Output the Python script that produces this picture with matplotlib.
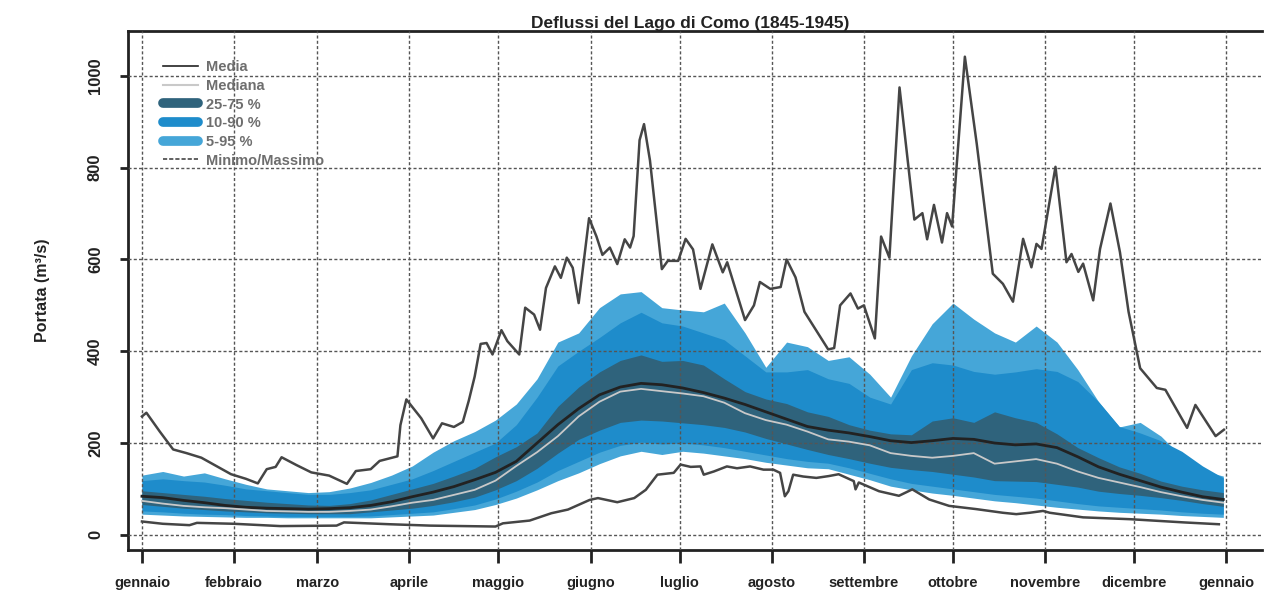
import matplotlib
matplotlib.use("Agg")
import matplotlib.pyplot as plt
from matplotlib.lines import Line2D
import numpy as np

plt.rcParams['font.family'] = ['Liberation Sans', 'DejaVu Sans']

# ---- data: day of year (0 = 1 gennaio) ----
month_days = [0, 31, 59, 90, 120, 151, 181, 212, 243, 273, 304, 334, 365]
month_labels = ['gennaio', 'febbraio', 'marzo', 'aprile', 'maggio', 'giugno',
                'luglio', 'agosto', 'settembre', 'ottobre', 'novembre',
                'dicembre', 'gennaio']
y_ticks = [0, 200, 400, 600, 800, 1000]

days = [0, 7, 14, 21, 28, 35, 42, 49, 56, 63, 70, 77, 84, 91, 98, 105, 112,
        119, 126, 133, 140, 147, 154, 161, 168, 175, 182, 189, 196, 203, 210,
        217, 224, 231, 238, 245, 252, 259, 266, 273, 280, 287, 294, 301, 308,
        315, 322, 329, 336, 343, 350, 357, 364]

media = [84, 81, 75, 70, 64, 60, 58, 57, 56, 57, 59, 64, 72, 83, 93, 105, 120,
         136, 160, 200, 240, 275, 305, 322, 330, 327, 320, 310, 298, 284, 268,
         252, 236, 228, 222, 214, 205, 201, 205, 210, 208, 200, 196, 198, 190,
         170, 148, 132, 118, 104, 93, 83, 77]

mediana = [74, 68, 63, 60, 58, 55, 52, 51, 50, 50, 52, 55, 62, 70, 76, 87, 98,
           118, 150, 180, 215, 258, 290, 312, 318, 313, 308, 302, 288, 265, 250,
           240, 225, 208, 203, 195, 178, 172, 168, 172, 178, 155, 160, 165, 155,
           138, 124, 114, 104, 93, 84, 76, 70]

q05 = [45, 43, 41, 40, 39, 38, 38, 37, 37, 37, 37, 37, 39, 41, 43, 49, 55, 66,
       80, 98, 118, 135, 155, 172, 182, 175, 182, 178, 172, 166, 158, 152, 146,
       144, 132, 120, 106, 98, 91, 86, 80, 74, 70, 65, 60, 56, 52, 49, 47, 45,
       42, 40, 38]

q10 = [52, 50, 47, 45, 44, 42, 41, 40, 40, 40, 40, 41, 44, 47, 50, 57, 65, 78,
       95, 115, 140, 160, 180, 195, 202, 198, 200, 196, 190, 182, 174, 166, 160,
       156, 146, 134, 122, 112, 106, 100, 94, 88, 84, 80, 74, 68, 63, 60, 57,
       54, 50, 47, 45]

q25 = [66, 62, 58, 55, 52, 50, 48, 47, 46, 46, 46, 50, 54, 58, 64, 72, 82, 98,
       118, 145, 178, 208, 228, 245, 250, 248, 244, 240, 234, 224, 210, 198,
       186, 175, 166, 156, 147, 142, 138, 132, 126, 118, 117, 116, 110, 104, 95,
       90, 86, 81, 75, 68, 62]

q75 = [96, 92, 88, 84, 79, 75, 71, 68, 65, 64, 68, 76, 88, 100, 112, 128, 145,
       170, 192, 222, 280, 322, 355, 380, 392, 378, 380, 370, 340, 312, 296, 286,
       268, 258, 240, 228, 220, 218, 248, 255, 245, 268, 255, 245, 220, 190, 168,
       148, 134, 117, 106, 98, 92]

q90 = [118, 122, 118, 115, 108, 100, 96, 92, 88, 88, 92, 98, 110, 122, 140, 160,
       180, 200, 240, 300, 368, 400, 430, 462, 485, 462, 455, 440, 425, 390, 355,
       355, 360, 340, 330, 300, 285, 360, 375, 370, 356, 350, 355, 362, 356, 334,
       290, 236, 222, 205, 182, 150, 124]

q95 = [130, 138, 128, 135, 122, 110, 100, 96, 92, 94, 102, 114, 130, 150, 180,
       205, 225, 250, 285, 340, 420, 440, 495, 525, 530, 495, 490, 486, 505, 440,
       365, 420, 410, 380, 388, 350, 300, 390, 460, 505, 470, 440, 420, 455, 420,
       360, 290, 235, 245, 215, 170, 140, 128]

max_days = [0, 1.5, 6, 10.5, 15, 20, 25, 30, 35, 39, 42, 45, 47, 52, 57, 63, 69,
            72, 77, 80, 86, 87, 89, 94, 98, 101, 105, 108, 110, 112, 114, 116,
            118, 121, 123, 127, 129, 132, 134, 136, 139, 141, 143, 145, 147,
            150.5, 153, 155, 157.5, 160, 162.5, 164.3, 165.5, 167.5, 169, 171,
            175, 177, 180.5, 183, 185.5, 188, 192, 195.5, 197, 203, 206, 208,
            211.5, 215, 217, 220, 223, 231, 233, 235, 238.5, 241, 243, 246.7,
            248.8, 251.6, 255, 260, 262.7, 264.3, 266.6, 269.3, 271, 272.7, 277,
            281, 286.4, 289.8, 293.2, 296.6, 299.4, 301.1, 302.8, 307.5, 311.2,
            312.9, 315.2, 316.8, 320.2, 322.5, 326, 329.2, 332.1, 336, 341.6,
            344.5, 351.8, 354.6, 361.4, 364.2]
max_vals = [258, 266, 225, 186, 178, 168, 150, 132, 122, 112, 143, 148, 169,
            152, 136, 129, 111, 139, 143, 161, 171, 239, 295, 254, 210, 243, 235,
            246, 292, 345, 416, 418, 393, 446, 422, 393, 495, 480, 447, 538, 585,
            560, 604, 582, 505, 690, 650, 610, 626, 590, 644, 626, 651, 860, 895,
            816, 579, 597, 597, 645, 622, 536, 633, 572, 594, 468, 500, 551, 536,
            540, 600, 561, 486, 404, 407, 500, 526, 493, 500, 428, 650, 604, 975,
            687, 701, 644, 719, 637, 701, 672, 1042, 852, 569, 547, 508, 645, 583,
            634, 623, 802, 594, 612, 573, 591, 511, 623, 722, 616, 486, 363, 320,
            316, 233, 283, 215, 229]

min_days = [0, 7, 16, 18.5, 31, 46.5, 65.5, 68, 83.4, 97, 119, 121.5, 130.5,
            137.8, 143.4, 150.7, 153.5, 160, 165.7, 169.6, 173.5, 179, 181.3,
            184.7, 188, 189.1, 192.5, 196.9, 200.3, 204.7, 209.2, 212.5, 214.8,
            216.4, 217.6, 219.2, 222.6, 227, 231.2, 234.5, 239.6, 240.2, 241.3,
            248.1, 254.8, 259.3, 265, 271.7, 280.8, 289.8, 294.3, 298.8, 303.3,
            305.6, 316.8, 332.6, 350.7, 362.5]
min_vals = [29, 24, 21, 26, 24, 19, 20, 27, 23, 20, 18, 25, 31, 47, 55, 76, 80,
            71, 80, 98, 131, 135, 153, 148, 149, 131, 138, 149, 145, 149, 142,
            142, 135, 84, 95, 131, 127, 124, 128, 132, 117, 99, 114, 95, 85, 99,
            77, 63, 56, 48, 45, 48, 52, 48, 38, 34, 27, 23]

# ---- colours ----
c_595 = '#45a6d8'
c_1090 = '#1e8ccb'
c_2575 = '#2f637c'
c_media = '#222222'
c_mediana = '#c9c9c9'
c_minmax = '#454545'

fig = plt.figure(figsize=(12.66, 6.03), dpi=100)
ax = fig.add_axes([0.1011, 0.0880, 0.8957, 0.8606])

ax.fill_between(days, q05, q95, color=c_595, lw=0, zorder=1)
ax.fill_between(days, q10, q90, color=c_1090, lw=0, zorder=1.1)
ax.fill_between(days, q25, q75, color=c_2575, lw=0, zorder=1.2)

ax.plot(max_days, max_vals, color=c_minmax, lw=1.8, zorder=3)
ax.plot(min_days, min_vals, color=c_minmax, lw=1.8, zorder=3)
ax.plot(days, media, color=c_media, lw=2.0, zorder=3.2)
ax.plot(days, mediana, color=c_mediana, lw=1.3, zorder=3.3)

ax.set_xlim(-4.7, 377)
ax.set_ylim(-33, 1098)

ax.set_xticks(month_days)
ax.set_xticklabels(month_labels, fontsize=10.5, fontweight='bold', color='#222222')
ax.set_yticks(y_ticks)
ax.set_yticklabels([str(v) for v in y_ticks], rotation=90, va='center',
                   fontsize=12, fontweight='bold', color='#222222')

ax.tick_params(axis='x', length=9, width=2, pad=10, color='#222222')
ax.tick_params(axis='y', length=6, width=2, pad=12, color='#222222')

ax.grid(True, linestyle=(0, (2.2, 1.6)), color='#555555', lw=1.0)
ax.set_axisbelow(False)
for gl in ax.get_xgridlines() + ax.get_ygridlines():
    gl.set_zorder(2.5)

for side in ['left', 'bottom', 'top']:
    ax.spines[side].set_linewidth(2.0)
    ax.spines[side].set_color('#222222')
ax.spines['right'].set_visible(False)

ax.set_ylabel('Portata (m³/s)', fontsize=11.5, fontweight='bold', color='#222222')
ax.yaxis.set_label_coords(-0.069, 0.5)

ax.set_title('Deflussi del Lago di Como (1845-1945)', fontsize=12.5,
             fontweight='bold', color='#222222', pad=1, x=0.496)

handles = [
    Line2D([], [], color=c_media, lw=1.2),
    Line2D([], [], color=c_mediana, lw=1.5),
    Line2D([], [], color=c_2575, lw=7, solid_capstyle='round'),
    Line2D([], [], color=c_1090, lw=7, solid_capstyle='round'),
    Line2D([], [], color=c_595, lw=7, solid_capstyle='round'),
    Line2D([], [], color=c_minmax, lw=1.2, linestyle=(0, (2.5, 1.2))),
]
labels = ['Media', 'Mediana', '25-75 %', '10-90 %', '5-95 %', 'Minimo/Massimo']
leg = ax.legend(handles, labels, loc='upper left', bbox_to_anchor=(0.019, 0.969),
                frameon=False, fontsize=10.5, handlelength=2.4,
                handletextpad=0.55, labelspacing=0.32)
for t in leg.get_texts():
    t.set_color('#6e6e6e')
    t.set_fontweight('bold')
leg.set_zorder(5)

fig.savefig('out.png', dpi=100)
